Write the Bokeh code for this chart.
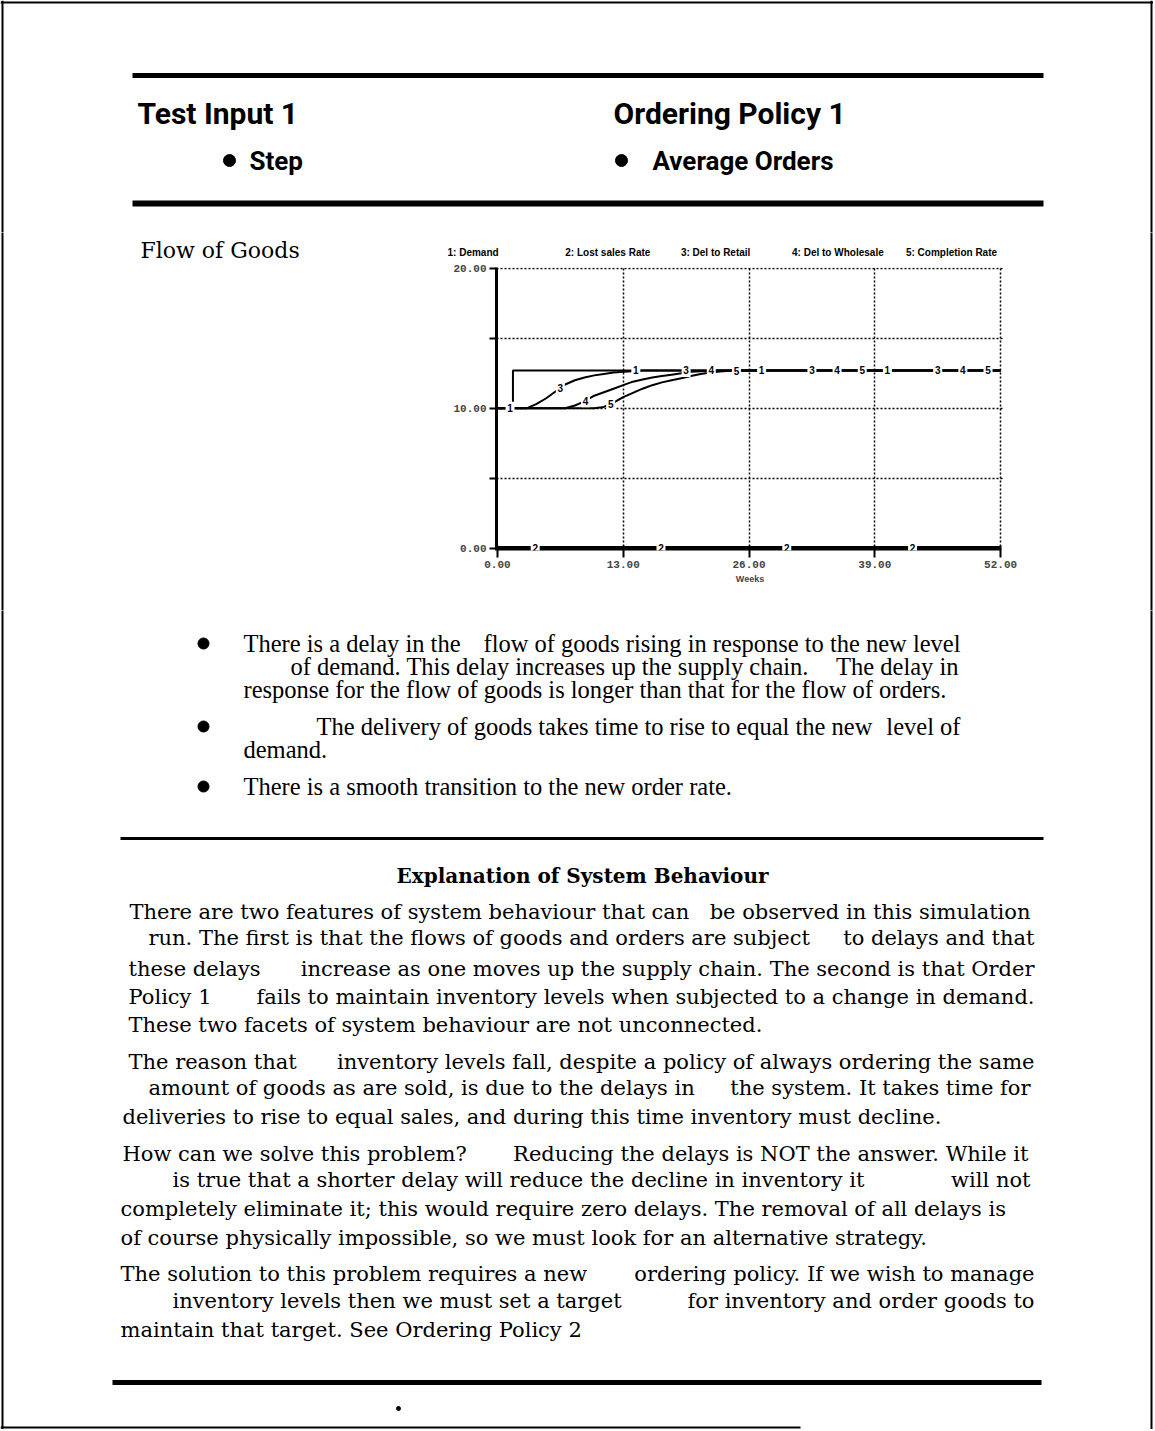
import numpy as np
from bokeh.plotting import figure
from bokeh.layouts import column, row
from bokeh.models import Range1d, FixedTicker, Title
from bokeh.core.properties import value
from bokeh.embed import file_html
from bokeh.resources import INLINE

# ---------------- chart data ----------------
weeks = [0, 1, 2, 3, 4, 5, 6, 7, 8, 9, 10, 11, 12, 13, 14, 15, 16, 17, 18,
         19, 20, 21, 22, 23, 24, 25, 26, 39, 52]
demand_weeks = [0, 1.6, 1.6, 52]
demand = [10, 10, 12.7, 12.7]
lost_weeks = [0, 52]
lost_sales = [0, 0]
del_retail = [10, 10, 10, 10, 10.3, 10.7, 11.2, 11.7, 12.0, 12.2, 12.35, 12.45,
              12.55, 12.6, 12.65, 12.7, 12.7, 12.7, 12.7, 12.7, 12.7, 12.7, 12.7,
              12.7, 12.7, 12.7, 12.7, 12.7, 12.7]
del_wholesale = [10, 10, 10, 10, 10, 10, 10, 10, 10.2, 10.5, 10.9, 11.15, 11.4,
                 11.65, 11.9, 12.05, 12.2, 12.3, 12.4, 12.5, 12.6, 12.65, 12.7,
                 12.7, 12.7, 12.7, 12.7, 12.7, 12.7]
completion = [10, 10, 10, 10, 10, 10, 10, 10, 10, 10, 10, 10.1, 10.4, 10.8,
              11.1, 11.4, 11.65, 11.85, 12.0, 12.15, 12.3, 12.45, 12.55, 12.62,
              12.68, 12.7, 12.7, 12.7, 12.7]
legend_labels = ["1: Demand", "2: Lost sales Rate", "3: Del to Retail",
                 "4: Del to Wholesale", "5: Completion Rate"]
x_ticks = [0, 13, 26, 39, 52]
x_tick_labels = ["0.00", "13.00", "26.00", "39.00", "52.00"]
y_ticks = [0, 5, 10, 15, 20]
y_tick_labels = ["0.00", "", "10.00", "", "20.00"]
x_title = "Weeks"

# ---------------- page texts ----------------
header_left = "Test Input 1"
header_left_sub = "Step"
header_right = "Ordering Policy 1"
header_right_sub = "Average Orders"
section_title = "Flow of Goods"
explain_title = "Explanation of System Behaviour"

SERIF = "DejaVu Serif"
TIMES = "Liberation Serif"
HEAD = "Roboto"
CH = "Liberation Sans"
MONO = "Liberation Mono"

PAGE_W = 1153
PAGE_H = 1429
TOP_H = 232      # header block
MID_H = 378      # chart row

# chart frame geometry (page pixels)
CH_X0, CH_W = 420, 600
FR_LEFT, FR_RIGHT, FR_TOP, FR_BOTTOM = 76, 17, 35, 60
X_LO, X_HI = -0.1, 52.3
Y_LO, Y_HI = -0.15, 20.05


def page_fig(x0, y0, w, h):
    p = figure(width=w, height=h, x_range=Range1d(x0, x0 + w),
               y_range=Range1d(y0 + h, y0), output_backend="svg",
               toolbar_location=None, min_border=0,
               x_axis_type=None, y_axis_type=None)
    p.outline_line_color = None
    p.background_fill_color = "white"
    p.border_fill_color = "white"
    # page frame
    p.segment(x0=[2, 1151, 0, 0], y0=[0, 0, 2, 1427],
              x1=[2, 1151, PAGE_W, 800], y1=[PAGE_H, PAGE_H, 2, 1427],
              line_width=2, line_color="black")
    return p


def txt(p, x, y, s, font, size, style="normal", align="left"):
    p.text(x=[x], y=[y], text=[s], text_font=value(font),
           text_font_size=value(f"{size}px"), text_font_style=style,
           text_align=align, text_baseline="alphabetic", text_color="black")


def rule(p, x0, x1, y, w):
    p.segment(x0=[x0], y0=[y], x1=[x1], y1=[y], line_width=w,
              line_color="black", line_cap="butt")


# ---------------- top block ----------------
top = page_fig(0, 0, PAGE_W, TOP_H)
rule(top, 132, 1043, 75, 5)
rule(top, 132, 1043, 203, 6)
txt(top, 137, 113, header_left, HEAD, 30, "bold")
txt(top, 613, 113, header_right, HEAD, 30, "bold")
top.scatter(x=[229, 621], y=[160, 160], size=12, marker="circle",
            color="black")
txt(top, 249, 160, header_left_sub, HEAD, 26, "bold")
txt(top, 652, 160, header_right_sub, HEAD, 26, "bold")

# ---------------- middle row: chart ----------------
left = page_fig(0, TOP_H, CH_X0, MID_H)
txt(left, 140, 250, section_title, SERIF, 22)
right = page_fig(CH_X0 + CH_W, TOP_H, PAGE_W - CH_X0 - CH_W, MID_H)

# legend line, laid out as one title string (Liberation Sans Bold == Arial
# Bold metrics) so that each entry starts at its reference position
ARIAL_BOLD = {" ": 278, "1": 556, "2": 556, "3": 556, "4": 556, "5": 556,
              ":": 333, "D": 722, "L": 611, "R": 722, "W": 944, "C": 722,
              "a": 556, "d": 611, "e": 556, "h": 611, "i": 278, "l": 278,
              "m": 889, "n": 611, "o": 611, "p": 611, "r": 389, "s": 556,
              "t": 333}
LEG_SIZE = 10
leg_px = [447, 565, 680, 793, 905]


def tw(s):
    return sum(ARIAL_BOLD.get(c, 556) for c in s) * LEG_SIZE / 1000.0


legend_str = ""
cur = leg_px[0]
for i, lab in enumerate(legend_labels):
    if i > 0:
        n = max(1, int(round((leg_px[i] - cur) / tw(" "))))
        legend_str += "\u00a0" * n
        cur += n * tw(" ")
    legend_str += lab
    cur += tw(lab)

chart = figure(width=CH_W, height=MID_H, x_range=Range1d(X_LO, X_HI),
               y_range=Range1d(Y_LO, Y_HI), output_backend="svg",
               toolbar_location=None, min_border_left=FR_LEFT,
               min_border_right=FR_RIGHT, min_border_top=FR_TOP,
               min_border_bottom=FR_BOTTOM)
chart.outline_line_color = None
chart.title = Title(text=legend_str, align="left",
                    offset=leg_px[0] - (CH_X0 + FR_LEFT),
                    text_font=CH, text_font_size=f"{LEG_SIZE}px",
                    text_font_style="bold", text_color="black", standoff=19)

xa = chart.xaxis[0]
xa.ticker = FixedTicker(ticks=x_ticks)
xa.major_label_overrides = dict(zip(x_ticks, x_tick_labels))
xa.axis_line_color = None
xa.major_tick_line_width = 2
xa.major_tick_in = 5
xa.major_tick_out = 7
xa.minor_tick_line_color = None
xa.major_label_text_font = MONO
xa.major_label_text_font_style = "bold"
xa.major_label_text_font_size = "11px"
xa.major_label_standoff = 3
xa.axis_label = x_title
xa.axis_label_text_font = CH
xa.axis_label_text_font_style = "bold"
xa.axis_label_text_font_size = "9px"
xa.axis_label_standoff = 3

ya = chart.yaxis[0]
ya.ticker = FixedTicker(ticks=y_ticks)
ya.major_label_overrides = dict(zip(y_ticks, y_tick_labels))
ya.axis_line_width = 3
ya.major_tick_line_width = 2
ya.major_tick_in = 0
ya.major_tick_out = 7
ya.minor_tick_line_color = None
ya.major_label_text_font = MONO
ya.major_label_text_font_style = "bold"
ya.major_label_text_font_size = "11px"
ya.major_label_standoff = 3

chart.xgrid.ticker = FixedTicker(ticks=x_ticks[1:])
chart.ygrid.ticker = FixedTicker(ticks=y_ticks[1:])
for g in (chart.xgrid, chart.ygrid):
    g.grid_line_color = "black"
    g.grid_line_dash = "2 2"
    g.grid_line_width = 1.5
    g.grid_line_alpha = 1.0

series = [
    (demand_weeks, demand, 2),
    (lost_weeks, lost_sales, 5),
    (weeks, del_retail, 2),
    (weeks, del_wholesale, 2),
    (weeks, completion, 2),
]
for xs, ys, lw in series:
    chart.line(xs, ys, line_color="black", line_width=lw)

# numbered series markers, every 13 weeks, staggered
lx_all, ly_all, lt_all = [], [], []
for k, (xs, ys, lw) in enumerate(series):
    for j in range(4):
        w = 1.3 + 2.6 * k + 13 * j
        lx_all.append(w)
        ly_all.append(float(np.interp(w, xs, ys)))
        lt_all.append(str(k + 1))
chart.rect(x=lx_all, y=ly_all, width=9, height=13, width_units="screen",
           height_units="screen", fill_color="white", line_color=None)
chart.text(x=lx_all, y=ly_all, text=lt_all, text_font=value(CH),
           text_font_size=value("10px"), text_font_style="bold",
           text_align="center", text_baseline="middle", text_color="black")

middle = row(left, column(chart), right)

# ---------------- bottom block ----------------
BOT_Y = TOP_H + MID_H
bot = page_fig(0, BOT_Y, PAGE_W, PAGE_H - BOT_Y)
bot.scatter(x=[203, 203, 203], y=[643, 726, 786], size=11, marker="circle",
            color="black")
bullet_lines = [
    (243, 643, "There is a delay in the", "left"),
    (960, 643, "flow of goods rising in response to the new level", "right"),
    (290, 666, "of demand. This delay increases up the supply chain.", "left"),
    (958, 666, "The delay in", "right"),
    (243, 689, "response for the flow of goods is longer than that for the flow of orders.", "left"),
    (316, 726, "The delivery of goods takes time to rise to equal the new", "left"),
    (960, 726, "level of", "right"),
    (243, 749, "demand.", "left"),
    (243, 786, "There is a smooth transition to the new order rate.", "left"),
]
for x, y, s, a in bullet_lines:
    txt(bot, x, y, s, TIMES, 24.5, "normal", a)

rule(bot, 120, 1043, 838, 3)
txt(bot, 582, 875, explain_title, SERIF, 20, "bold", "center")

para = [
    (129, 911, "There are two features of system behaviour that can", "left"),
    (1030, 911, "be observed in this simulation", "right"),
    (148, 937, "run. The first is that the flows of goods and orders are subject", "left"),
    (1034, 937, "to delays and that", "right"),
    (128, 968, "these delays", "left"),
    (1034, 968, "increase as one moves up the supply chain. The second is that Order", "right"),
    (128, 996, "Policy 1", "left"),
    (1034, 996, "fails to maintain inventory levels when subjected to a change in demand.", "right"),
    (128, 1024, "These two facets of system behaviour are not unconnected.", "left"),
    (128, 1061, "The reason that", "left"),
    (1034, 1061, "inventory levels fall, despite a policy of always ordering the same", "right"),
    (148, 1087, "amount of goods as are sold, is due to the delays in", "left"),
    (1030, 1087, "the system. It takes time for", "right"),
    (122, 1116, "deliveries to rise to equal sales, and during this time inventory must decline.", "left"),
    (122, 1153, "How can we solve this problem?", "left"),
    (1028, 1153, "Reducing the delays is NOT the answer. While it", "right"),
    (172, 1179, "is true that a shorter delay will reduce the decline in inventory it", "left"),
    (1030, 1179, "will not", "right"),
    (120, 1208, "completely eliminate it; this would require zero delays. The removal of all delays is", "left"),
    (120, 1237, "of course physically impossible, so we must look for an alternative strategy.", "left"),
    (120, 1273, "The solution to this problem requires a new", "left"),
    (1034, 1273, "ordering policy. If we wish to manage", "right"),
    (172, 1300, "inventory levels then we must set a target", "left"),
    (1034, 1300, "for inventory and order goods to", "right"),
    (120, 1329, "maintain that target. See Ordering Policy 2", "left"),
]
for x, y, s, a in para:
    txt(bot, x, y, s, SERIF, 21, "normal", a)

rule(bot, 112, 1041, 1382, 5)
bot.scatter(x=[398], y=[1408], size=4, marker="circle", color="black")

layout = column(top, middle, bot)

open("out.html", "w").write(file_html(layout, INLINE))
